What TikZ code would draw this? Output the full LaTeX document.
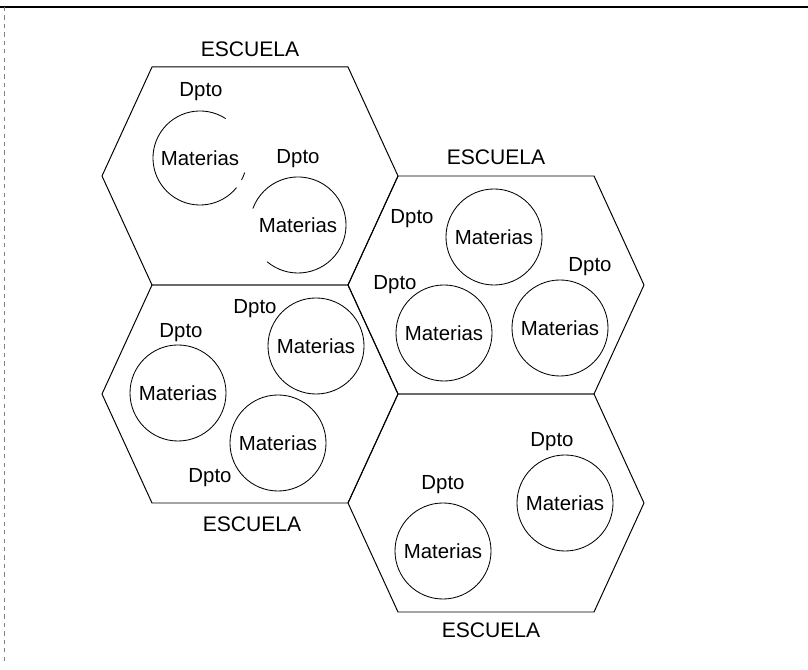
\documentclass[tikz,border=0pt]{standalone}
\usepackage{fontspec}
\setmainfont{Liberation Sans}
\begin{document}
\begin{tikzpicture}[x=0.025cm,y=0.025cm,
  hexa/.style={line width=0.7pt,line join=round},
  materia/.style={circle,draw,line width=0.6pt,minimum size=2.4cm,inner sep=0pt,font=\fontsize{14.5}{17}\selectfont},
  materiaopen/.style={materia,draw=none},
  dpto/.style={font=\fontsize{14.5}{17}\selectfont},
  escuela/.style={font=\fontsize{15}{18}\selectfont}]
  \useasboundingbox (0,0) rectangle (808,670);
  % frame of the scan
  \draw[line width=1pt] (0,663) -- (808,663);
  \draw[gray,dashed,line width=0.4pt] (4,663) -- (4,5);
  % the four schools
  \foreach \cx/\cy in {250/494,496/385,250/276,496/167}
    \draw[hexa] (\cx+148,\cy) -- (\cx+98,\cy+109) -- (\cx-98,\cy+109)
      -- (\cx-148,\cy) -- (\cx-98,\cy-109) -- (\cx+98,\cy-109) -- cycle;
  \node[escuela] (e1) at (250,621) {ESCUELA};
  \node[escuela] (e2) at (496,513) {ESCUELA};
  \node[escuela] (e3) at (252,146) {ESCUELA};
  \node[escuela] (e4) at (491,40) {ESCUELA};
  % top left school, open circles
  \node[materiaopen] (m1) at (200,512) {Materias};
  \draw[line width=0.6pt] (m1.center) ++(57:1.175cm) arc[start angle=57,end angle=321,radius=1.175cm];
  \draw[line width=0.6pt] (m1.center) ++(-28:1.175cm) arc[start angle=-28,end angle=-18,radius=1.175cm];
  \node[dpto] (d1) at (201,578) {Dpto};
  \node[materiaopen] (m2) at (298,445) {Materias};
  \draw[line width=0.6pt] (m2.center) ++(-130:1.2cm) arc[start angle=-130,end angle=160,radius=1.2cm];
  \node[dpto] (d2) at (298,511) {Dpto};
  % top right school
  \node[materia] (m3) at (494,433) {Materias};
  \node[dpto] (d3) at (412,451) {Dpto};
  \node[materia] (m4) at (444,337) {Materias};
  \node[dpto] (d4) at (395,385) {Dpto};
  \node[materia] (m5) at (560,342) {Materias};
  \node[dpto] (d5) at (590,403) {Dpto};
  % bottom left school
  \node[materia] (m6) at (316,324) {Materias};
  \node[dpto] (d6) at (255,361) {Dpto};
  \node[materia] (m7) at (178,277) {Materias};
  \node[dpto] (d7) at (181,337) {Dpto};
  \node[materia] (m8) at (278,227) {Materias};
  \node[dpto] (d8) at (210,192) {Dpto};
  % bottom right school
  \node[materia] (m9) at (565,167) {Materias};
  \node[dpto] (d9) at (552,228) {Dpto};
  \node[materia] (m10) at (443,119) {Materias};
  \node[dpto] (d10) at (443,185) {Dpto};
\end{tikzpicture}
\end{document}
